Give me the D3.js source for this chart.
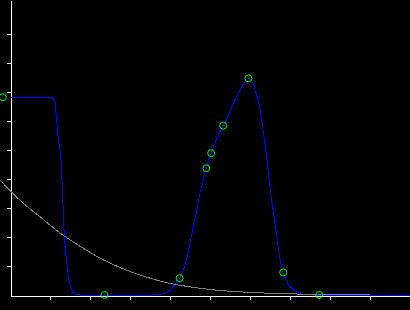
<!DOCTYPE html>
<html lang="en">
<head>
  <meta charset="UTF-8">
  <title>Curves on black</title>
  <style>
    html, body { margin: 0; padding: 0; background: #000; }
    svg { display: block; background: #000; }
    .axis path, .axis line { stroke: #fff; stroke-width: 1px; shape-rendering: crispEdges; }
    .curve { fill: none; stroke-width: 1px; shape-rendering: crispEdges; }
  </style>
</head>
<body>
  <svg id="chart" width="410" height="310"></svg>
  <script src="https://d3js.org/d3.v7.min.js"></script>
  <script>
    // blue series: a smooth step down, then a bump
    const blueX = [0, 0.875, 1.025, 1.09, 1.125, 1.17, 1.21, 1.27, 1.31, 1.33, 1.35, 1.38, 1.42, 1.46, 1.52, 1.58, 1.67, 1.75,
      3.55, 3.7, 3.875, 4.04, 4.17, 4.24, 4.33, 4.42, 4.5, 4.58, 4.67, 4.75, 4.83, 4.9, 5.025, 5.17, 5.325, 5.46, 5.58,
      5.71, 5.83, 5.96, 6.08, 6.125, 6.21, 6.275, 6.33, 6.39, 6.44, 6.49, 6.54, 6.61, 6.67, 6.725, 6.79, 6.83, 6.92,
      7.04, 7.21, 7.375, 7.625, 10];
    const blueY = [0.682, 0.682, 0.681, 0.676, 0.662, 0.593, 0.534, 0.477, 0.362, 0.293, 0.224, 0.167, 0.110, 0.063, 0.029, 0.008, 0.001, 0,
      0, 0.002, 0.006, 0.023, 0.046, 0.058, 0.086, 0.127, 0.178, 0.236, 0.293, 0.351, 0.397, 0.437, 0.489, 0.540, 0.584, 0.621, 0.661,
      0.696, 0.727, 0.747, 0.730, 0.707, 0.667, 0.621, 0.563, 0.506, 0.448, 0.385, 0.328, 0.259, 0.201, 0.144, 0.098, 0.078, 0.046,
      0.023, 0.008, 0.001, 0, 0];

    // gray series: decaying curve
    const grayX = [-0.25, 0, 0.25, 0.5, 0.75, 1.0, 1.25, 1.5, 1.75, 2.0, 2.25, 2.5, 2.75, 3.0, 3.5, 4.0, 4.5, 5.0, 5.5, 6.0, 6.5, 7.0, 7.5, 8.0, 8.5, 9.0];
    const grayY = [0.397, 0.360, 0.327, 0.297, 0.270, 0.241, 0.214, 0.190, 0.168, 0.147, 0.127, 0.110, 0.095, 0.081, 0.058, 0.040, 0.028, 0.019, 0.013, 0.009, 0.006, 0.004, 0.0025, 0.0015, 0.0007, 0];

    // green sample markers
    const markX = [-0.18, 2.36, 4.24, 4.91, 5.03, 5.33, 5.96, 6.83, 7.73];
    const markY = [0.682, 0, 0.058, 0.437, 0.489, 0.584, 0.747, 0.078, 0];

    const xTicks = [1, 2, 3, 4, 5, 6, 7, 8, 9];
    const yTicks = [0.1, 0.2, 0.3, 0.4, 0.5, 0.6, 0.7, 0.8, 0.9];

    const svg = d3.select("#chart");
    const x = d3.scaleLinear().domain([-0.25, 10]).range([0, 410]);
    const y = d3.scaleLinear().domain([0, 1]).range([295, 5]);

    // axes
    const xAxisScale = x.copy().domain([0, 10]).range([x(0), x(10)]);
    svg.append("g")
      .attr("class", "axis")
      .attr("transform", `translate(0,${y(0) + 0.5})`)
      .call(d3.axisBottom(xAxisScale).tickValues(xTicks).tickSize(4).tickSizeOuter(0).tickFormat(""));

    const yAxisScale = y.copy().domain([0, y.invert(0)]).range([y(0), 0]);
    svg.append("g")
      .attr("class", "axis")
      .attr("transform", `translate(${x(0) + 0.5},0)`)
      .call(d3.axisLeft(yAxisScale).tickValues(yTicks).tickSize(4).tickSizeOuter(0).tickFormat(""));

    const line = d3.line()
      .x(d => x(d[0]))
      .y(d => y(d[1]))
      .curve(d3.curveMonotoneX);

    svg.append("path")
      .attr("class", "curve")
      .attr("stroke", "#0000ff")
      .attr("d", line(d3.zip(blueX, blueY)));

    svg.append("path")
      .attr("class", "curve")
      .attr("stroke", "#808080")
      .attr("d", line(d3.zip(grayX, grayY)));

    const marks = svg.append("g").selectAll("g")
      .data(d3.zip(markX, markY))
      .join("g")
        .attr("transform", d => `translate(${x(d[0])},${y(d[1])})`);

    marks.append("circle")
      .attr("r", 3.5)
      .attr("fill", "none")
      .attr("stroke", "#00ff00")
      .attr("stroke-width", 1);

    marks.append("rect")
      .attr("x", -0.5).attr("y", -0.5)
      .attr("width", 1).attr("height", 1)
      .attr("fill", "#007700");
  </script>
</body>
</html>
